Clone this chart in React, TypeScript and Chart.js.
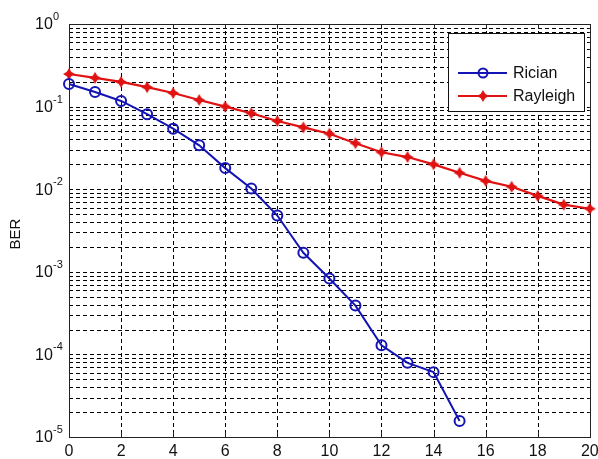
import React, { useEffect, useRef } from "react";
import { Chart, registerables } from "chart.js";

Chart.register(...registerables);

const snr = [0, 1, 2, 3, 4, 5, 6, 7, 8, 9, 10, 11, 12, 13, 14, 15, 16, 17, 18, 19, 20];
const ricianBER = [
  0.188, 0.15, 0.117, 0.081, 0.054, 0.034, 0.018, 0.0102, 0.0048, 0.0017, 0.00083,
  0.00039, 0.000129, 0.000079, 0.000061, 0.0000156,
];
const rayleighBER = [
  0.248, 0.223, 0.199, 0.172, 0.146, 0.12, 0.1, 0.083, 0.067, 0.056, 0.047, 0.036,
  0.028, 0.0245, 0.02, 0.0158, 0.0126, 0.0107, 0.0083, 0.0065, 0.0058,
];
const xTicks = [0, 2, 4, 6, 8, 10, 12, 14, 16, 18, 20];
const yDecades = [0, -1, -2, -3, -4, -5];
const seriesNames = ["Rician", "Rayleigh"];
const yTitle = "BER";

const BLUE = "#1414b4";
const RED = "#e01212";
const FONT = '"Liberation Sans", Arial, sans-serif';

function drawSparkle(ctx: CanvasRenderingContext2D, cx: number, cy: number, color: string) {
  ctx.fillStyle = color;
  ctx.beginPath();
  ctx.moveTo(cx, cy - 6);
  ctx.lineTo(cx + 2.2, cy - 2.2);
  ctx.lineTo(cx + 6, cy);
  ctx.lineTo(cx + 2.2, cy + 2.2);
  ctx.lineTo(cx, cy + 6);
  ctx.lineTo(cx - 2.2, cy + 2.2);
  ctx.lineTo(cx - 6, cy);
  ctx.lineTo(cx - 2.2, cy - 2.2);
  ctx.closePath();
  ctx.fill();
}

function makeStarCanvas(color: string) {
  const c = document.createElement("canvas");
  c.width = 14;
  c.height = 14;
  const g = c.getContext("2d")!;
  drawSparkle(g, 7, 7, color);
  return c;
}

const matlabPlugin = {
  id: "matlabFrame",
  beforeDatasetsDraw(chart: any) {
    const { ctx, chartArea: a, scales } = chart;
    const xs = scales.x;
    const ys = scales.y;
    ctx.save();
    ctx.strokeStyle = "#000";
    ctx.lineWidth = 1;
    ctx.setLineDash([4, 3]);
    for (const t of xTicks) {
      if (t <= 0 || t >= 20) continue;
      const px = Math.round(xs.getPixelForValue(t)) + 0.5;
      ctx.beginPath();
      ctx.moveTo(px, a.top);
      ctx.lineTo(px, a.bottom);
      ctx.stroke();
    }
    for (let e = -5; e < 0; e++) {
      for (let k = 1; k <= 9; k++) {
        const v = k * Math.pow(10, e);
        if (k === 1 && e === -5) continue;
        const py = Math.round(ys.getPixelForValue(v)) + 0.5;
        ctx.beginPath();
        ctx.moveTo(a.left, py);
        ctx.lineTo(a.right, py);
        ctx.stroke();
      }
    }
    ctx.setLineDash([]);
    ctx.strokeStyle = "#222";
    ctx.strokeRect(Math.round(a.left) + 0.5, Math.round(a.top) + 0.5, Math.round(a.right - a.left), Math.round(a.bottom - a.top));
    for (const t of xTicks) {
      const px = Math.round(xs.getPixelForValue(t)) + 0.5;
      ctx.beginPath();
      ctx.moveTo(px, a.bottom);
      ctx.lineTo(px, a.bottom - 5);
      ctx.moveTo(px, a.top);
      ctx.lineTo(px, a.top + 5);
      ctx.stroke();
    }
    ctx.fillStyle = "#111";
    ctx.font = `16px ${FONT}`;
    ctx.textAlign = "center";
    ctx.textBaseline = "middle";
    for (const t of xTicks) {
      const px = xs.getPixelForValue(t);
      ctx.fillText(String(t), px, a.bottom + 15);
    }
    for (const d of yDecades) {
      const py = ys.getPixelForValue(Math.pow(10, d));
      ctx.font = `16px ${FONT}`;
      ctx.textAlign = "left";
      ctx.textBaseline = "middle";
      ctx.fillText("10", 35, py + 1);
      ctx.font = `11px ${FONT}`;
      ctx.textBaseline = "alphabetic";
      ctx.fillText(String(d), 53, py - 4);
    }
    ctx.save();
    ctx.translate(16, 234);
    ctx.rotate(-Math.PI / 2);
    ctx.font = `15px ${FONT}`;
    ctx.textAlign = "center";
    ctx.textBaseline = "middle";
    ctx.fillText(yTitle, 0, 0);
    ctx.restore();
    ctx.restore();
  },
  afterDatasetsDraw(chart: any) {
    const { ctx } = chart;
    ctx.save();
    const lx = 448, ly = 33, lw = 136, lh = 78;
    ctx.fillStyle = "#fff";
    ctx.fillRect(lx, ly, lw, lh);
    ctx.strokeStyle = "#111";
    ctx.lineWidth = 1;
    ctx.strokeRect(lx + 0.5, ly + 0.5, lw, lh);
    const rows = [
      { name: seriesNames[0], color: BLUE, y: 73, marker: "circle" },
      { name: seriesNames[1], color: RED, y: 96, marker: "star" },
    ];
    for (const r of rows) {
      ctx.strokeStyle = r.color;
      ctx.lineWidth = 2;
      ctx.beginPath();
      ctx.moveTo(458, r.y);
      ctx.lineTo(507, r.y);
      ctx.stroke();
      if (r.marker === "circle") {
        ctx.lineWidth = 2;
        ctx.beginPath();
        ctx.arc(483, r.y, 4.5, 0, Math.PI * 2);
        ctx.stroke();
      } else {
        drawSparkle(ctx, 483, r.y, r.color);
      }
      ctx.fillStyle = "#111";
      ctx.font = `16px ${FONT}`;
      ctx.textAlign = "left";
      ctx.textBaseline = "middle";
      ctx.fillText(r.name, 513, r.y + 1);
    }
    ctx.restore();
  },
};

export default function App() {
  const ref = useRef<HTMLCanvasElement | null>(null);
  useEffect(() => {
    if (!ref.current) return;
    const star = makeStarCanvas(RED);
    const chart = new Chart(ref.current, {
      type: "line",
      data: {
        datasets: [
          {
            label: seriesNames[0],
            data: ricianBER.map((v, i) => ({ x: snr[i], y: v })),
            borderColor: BLUE,
            backgroundColor: "rgba(0,0,0,0)",
            borderWidth: 2,
            pointStyle: "circle",
            pointRadius: 5,
            pointBorderWidth: 2,
            pointBorderColor: BLUE,
            pointBackgroundColor: "rgba(0,0,0,0)",
            clip: false as any,
          },
          {
            label: seriesNames[1],
            data: rayleighBER.map((v, i) => ({ x: snr[i], y: v })),
            borderColor: RED,
            backgroundColor: RED,
            borderWidth: 2.2,
            pointStyle: star as any,
            pointRadius: 6,
            clip: false as any,
          },
        ],
      },
      options: {
        animation: false,
        responsive: false,
        maintainAspectRatio: false,
        layout: { padding: { left: 69, right: 8, top: 24, bottom: 22 } },
        plugins: { legend: { display: false }, tooltip: { enabled: false } },
        scales: {
          x: { type: "linear", min: 0, max: 20, display: false },
          y: { type: "logarithmic", min: 1e-5, max: 1, display: false },
        },
      },
      plugins: [matlabPlugin],
    });
    return () => chart.destroy();
  }, []);
  return (
    <div style={{ position: "fixed", left: 0, top: 0, width: 598, height: 459, background: "#fff" }}>
      <canvas ref={ref} width={598} height={459} style={{ width: 598, height: 459 }} />
    </div>
  );
}
